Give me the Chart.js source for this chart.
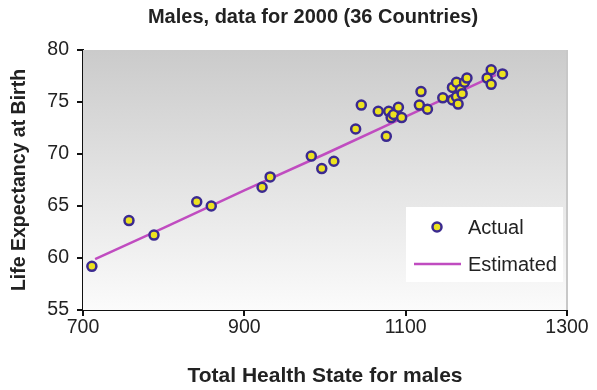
<!DOCTYPE html>
<html>
<head>
<meta charset="utf-8">
<script src="https://cdn.jsdelivr.net/npm/chart.js@4/dist/chart.umd.min.js"></script>
<style>
  html, body { margin: 0; padding: 0; background: #ffffff; }
  #wrap { width: 597px; height: 390px; position: relative; }
</style>
</head>
<body>
<div id="wrap"><canvas id="c" width="597" height="390"></canvas></div>
<script>
// Total health state (x) and male life expectancy at birth (y), one entry per country
const healthState = [711, 757, 788, 841, 859, 922, 932, 983, 996, 1011,
                     1038, 1045, 1066, 1076, 1079, 1082, 1085, 1091, 1095, 1117,
                     1119, 1127, 1146, 1158, 1158, 1163, 1163, 1165, 1168, 1170,
                     1173, 1176, 1201, 1206, 1206, 1220];
const lifeExpectancy = [59.2, 63.6, 62.2, 65.4, 65.0, 66.8, 67.8, 69.8, 68.6, 69.3,
                        72.4, 74.7, 74.1, 71.7, 74.1, 73.5, 73.8, 74.5, 73.5, 74.7,
                        76.0, 74.3, 75.4, 76.4, 75.2, 76.9, 75.5, 74.8, 76.2, 75.8,
                        76.9, 77.3, 77.3, 78.1, 76.7, 77.7];

// Fitted (estimated) life expectancy along the health-state range
const estHealthState = [715, 800, 900, 1000, 1100, 1212];
const estLifeExpectancy = [59.9, 62.9, 66.5, 70.0, 73.6, 77.6];

// Axis ticks
const xTicks = [700, 900, 1100, 1300];
const yTicks = [55, 60, 65, 70, 75, 80];

const chartTitle = 'Males, data for 2000 (36 Countries)';

const FONT = "'Liberation Sans', Arial, sans-serif";
const TEXT = '#222222';

const actualPts = healthState.map((x, i) => ({ x, y: lifeExpectancy[i] }));
const estPts = estHealthState.map((x, i) => ({ x, y: estLifeExpectancy[i] }));

// Grey-to-white plot background with a light right edge
const plotBackground = {
  id: 'plotBackground',
  beforeDatasetsDraw(chart) {
    const { ctx, chartArea: a } = chart;
    const g = ctx.createLinearGradient(0, a.top, 0, a.bottom);
    g.addColorStop(0, '#cbcbcb');
    g.addColorStop(1, '#fbfbfb');
    ctx.save();
    ctx.fillStyle = g;
    ctx.fillRect(a.left, a.top, a.right - a.left, a.bottom - a.top);
    ctx.strokeStyle = '#c8c8c8';
    ctx.lineWidth = 2;
    ctx.beginPath();
    ctx.moveTo(a.right, a.top);
    ctx.lineTo(a.right, a.bottom);
    ctx.stroke();
    ctx.restore();
  }
};

// Chart heading, centred a little right of the canvas middle
const heading = {
  id: 'heading',
  afterDraw(chart) {
    const { ctx } = chart;
    ctx.save();
    ctx.font = 'bold 20px ' + FONT;
    ctx.fillStyle = TEXT;
    ctx.textAlign = 'center';
    ctx.textBaseline = 'middle';
    ctx.fillText(chartTitle, 313, 17);
    ctx.restore();
  }
};

// Boxed legend in the lower right of the plot area
const innerLegend = {
  id: 'innerLegend',
  afterDatasetsDraw(chart) {
    const { ctx, chartArea: a } = chart;
    const w = 157, h = 75;
    const x0 = a.right - 161, y0 = a.bottom - 103;
    ctx.save();
    ctx.fillStyle = '#ffffff';
    ctx.fillRect(x0, y0, w, h);
    const ds = chart.data.datasets;
    ctx.font = '20px ' + FONT;
    ctx.textBaseline = 'middle';
    ctx.textAlign = 'left';
    // Actual: marker
    const r1 = y0 + 20;
    ctx.beginPath();
    ctx.arc(x0 + 31, r1, 4.5, 0, Math.PI * 2);
    ctx.fillStyle = ds[0].backgroundColor;
    ctx.fill();
    ctx.lineWidth = ds[0].borderWidth;
    ctx.strokeStyle = ds[0].borderColor;
    ctx.stroke();
    ctx.fillStyle = TEXT;
    ctx.fillText(ds[0].label, x0 + 62, r1 + 1);
    // Estimated: line
    const r2 = y0 + 57;
    ctx.beginPath();
    ctx.moveTo(x0 + 8, r2);
    ctx.lineTo(x0 + 55, r2);
    ctx.strokeStyle = ds[1].borderColor;
    ctx.lineWidth = ds[1].borderWidth;
    ctx.stroke();
    ctx.fillText(ds[1].label, x0 + 62, r2 + 1);
    ctx.restore();
  }
};

new Chart(document.getElementById('c'), {
  type: 'scatter',
  data: {
    datasets: [
      {
        label: 'Actual',
        data: actualPts,
        backgroundColor: '#ece21f',
        borderColor: '#3b2a90',
        borderWidth: 2.5,
        pointRadius: 4.5,
        pointHoverRadius: 4.5,
        order: 1
      },
      {
        label: 'Estimated',
        type: 'line',
        data: estPts,
        borderColor: '#c04cc0',
        borderWidth: 2.5,
        pointRadius: 0,
        fill: false,
        tension: 0,
        order: 2
      }
    ]
  },
  options: {
    responsive: false,
    animation: false,
    events: [],
    layout: { padding: { top: 50, right: 30, bottom: 0, left: 0 } },
    plugins: {
      legend: { display: false },
      tooltip: { enabled: false },
      title: { display: false }
    },
    scales: {
      x: {
        type: 'linear',
        min: 700,
        max: 1300,
        afterBuildTicks(scale) { scale.ticks = xTicks.map(v => ({ value: v })); },
        afterFit(scale) { scale.height = 80; },
        border: { display: true, color: '#111111', width: 2 },
        grid: { drawOnChartArea: false, color: '#111111', lineWidth: 2, tickLength: 6, tickColor: '#111111' },
        ticks: {
          color: TEXT, font: { family: FONT, size: 19.5 }, padding: 0, maxRotation: 0,
          callback: v => String(v)
        },
        title: {
          display: true,
          text: 'Total Health State for males',
          color: TEXT,
          font: { family: FONT, size: 21, weight: 'bold' },
          padding: { top: 0, bottom: 1 }
        }
      },
      y: {
        type: 'linear',
        min: 55,
        max: 80,
        afterBuildTicks(scale) { scale.ticks = yTicks.map(v => ({ value: v })); },
        afterFit(scale) { scale.width = 83; },
        border: { display: true, color: '#111111', width: 2 },
        grid: { drawOnChartArea: false, color: '#111111', lineWidth: 2, tickLength: 6, tickColor: '#111111' },
        ticks: {
          color: TEXT, font: { family: FONT, size: 19.5 }, padding: 8,
          callback: v => String(v)
        },
        title: {
          display: true,
          text: 'Life Expectancy at Birth',
          color: TEXT,
          font: { family: FONT, size: 19.5, weight: 'bold' },
          padding: { top: 8, bottom: 0 }
        }
      }
    }
  },
  plugins: [plotBackground, innerLegend, heading]
});
</script>
</body>
</html>
